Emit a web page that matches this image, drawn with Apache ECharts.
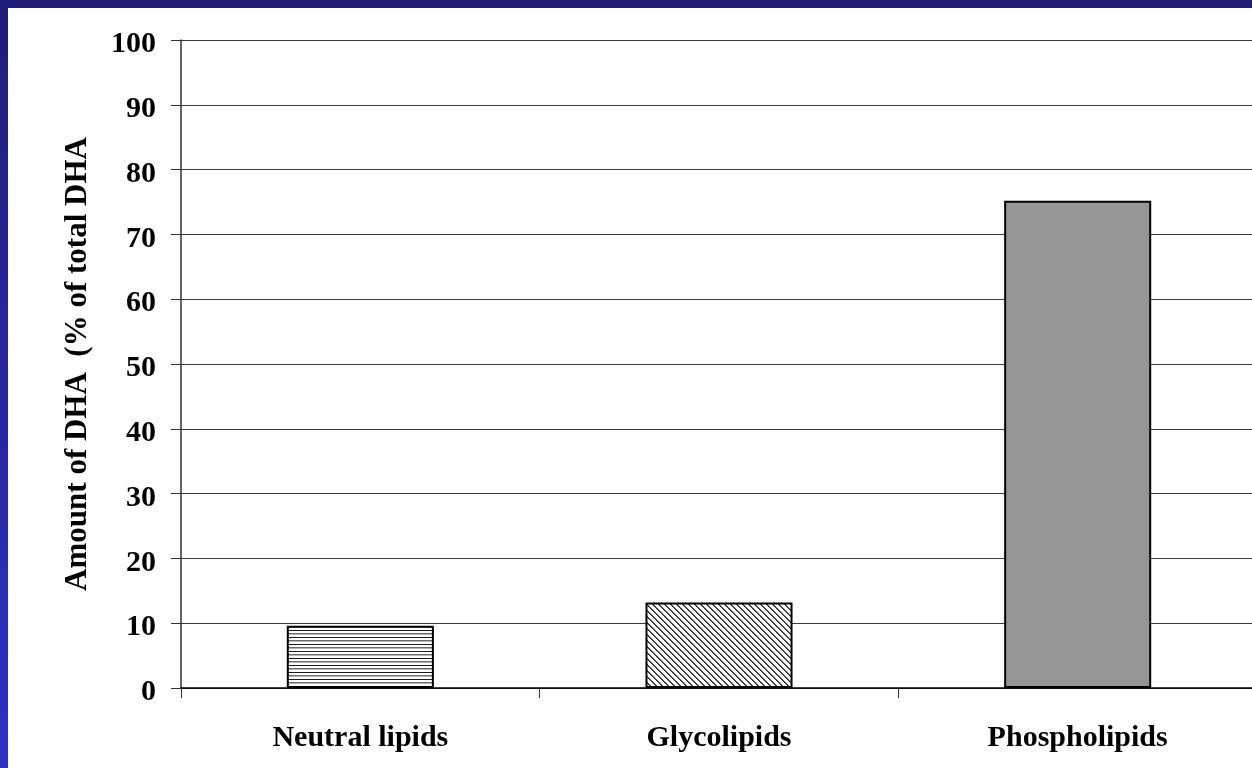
<!DOCTYPE html>
<html>
<head>
<meta charset="utf-8">
<style>
  html, body { margin: 0; padding: 0; width: 1252px; height: 768px; overflow: hidden; }
  body { position: relative; background: linear-gradient(to bottom, #1e1e76, #3030c4); }
  #paper { position: absolute; left: 8px; top: 8px; width: 1244px; height: 760px; background: #ffffff; }
  /* the plot area continues a little past the right edge of the page */
  #chart { position: absolute; left: 0; top: 0; width: 1260px; height: 768px; }
</style>
<script src="https://cdn.jsdelivr.net/npm/echarts@6/dist/echarts.min.js"></script>
</head>
<body>
<div id="paper"></div>
<div id="chart"></div>
<script>
// Lipid classes and their share of total DHA (%)
const categories = ['Neutral lipids', 'Glycolipids', 'Phospholipids'];
const dhaShare = [9.6, 13.2, 75.2];
const yMin = 0;
const yMax = 100;
const yStep = 10;
const yTitle = 'Amount of DHA  (% of total DHA';

const FONT = '"Liberation Serif", "Times New Roman", serif';

// Horizontal-stripe fill
function stripePattern() {
  const c = document.createElement('canvas');
  c.width = 4; c.height = 7;
  const g = c.getContext('2d');
  g.fillStyle = '#ffffff'; g.fillRect(0, 0, 4, 7);
  g.fillStyle = '#1a1a1a'; g.fillRect(0, 0, 4, 1);
  g.fillStyle = '#6e6e6e'; g.fillRect(0, 3, 4, 1);
  g.fillStyle = '#b4b4b4'; g.fillRect(0, 4, 4, 1);
  return c;
}

// Diagonal hatch fill (lines running top-left to bottom-right)
function hatchPattern() {
  const n = 6;
  const c = document.createElement('canvas');
  c.width = n; c.height = n;
  const g = c.getContext('2d');
  const img = g.createImageData(n, n);
  for (let y = 0; y < n; y++) {
    for (let x = 0; x < n; x++) {
      const k = ((x - y) % n + n) % n;
      const v = k === 0 ? 40 : (k === 1 ? 90 : 255);
      const i = (y * n + x) * 4;
      img.data[i] = v; img.data[i + 1] = v; img.data[i + 2] = v; img.data[i + 3] = 255;
    }
  }
  g.putImageData(img, 0, 0);
  return c;
}

const fills = [
  { image: stripePattern(), repeat: 'repeat' },
  { image: hatchPattern(), repeat: 'repeat' },
  '#969696'
];

const chart = echarts.init(document.getElementById('chart'), null, { renderer: 'canvas' });

chart.setOption({
  animation: false,
  backgroundColor: 'transparent',
  grid: { left: 181, top: 40, right: 3, bottom: 80, containLabel: false },
  xAxis: {
    type: 'category',
    data: categories,
    axisLine: { lineStyle: { color: '#000', width: 1.5 } },
    axisTick: { show: true, length: 10, inside: false, lineStyle: { color: '#333', width: 1 } },
    axisLabel: {
      margin: 35,
      color: '#000',
      fontFamily: FONT,
      fontWeight: 'bold',
      fontSize: 30
    },
    splitLine: { show: false }
  },
  yAxis: {
    type: 'value',
    min: yMin,
    max: yMax,
    interval: yStep,
    name: yTitle,
    nameLocation: 'middle',
    nameGap: 88,
    nameRotate: 90,
    nameTextStyle: {
      color: '#000',
      fontFamily: FONT,
      fontWeight: 'bold',
      fontSize: 31
    },
    axisLine: { show: true, lineStyle: { color: '#333', width: 1.5 } },
    axisTick: { show: true, length: 10, lineStyle: { color: '#333', width: 1 } },
    axisLabel: {
      margin: 25,
      verticalAlign: 'top',
      lineHeight: 9,
      color: '#000',
      fontFamily: FONT,
      fontWeight: 'bold',
      fontSize: 30
    },
    splitLine: { show: true, lineStyle: { color: '#3a3a3a', width: 1 } }
  },
  series: [{
    type: 'bar',
    barWidth: '41%',
    silent: true,
    data: dhaShare.map((v, i) => ({
      value: v,
      itemStyle: { color: fills[i], borderColor: '#000', borderWidth: 2 }
    })),
    emphasis: { disabled: true }
  }]
});
</script>
</body>
</html>
